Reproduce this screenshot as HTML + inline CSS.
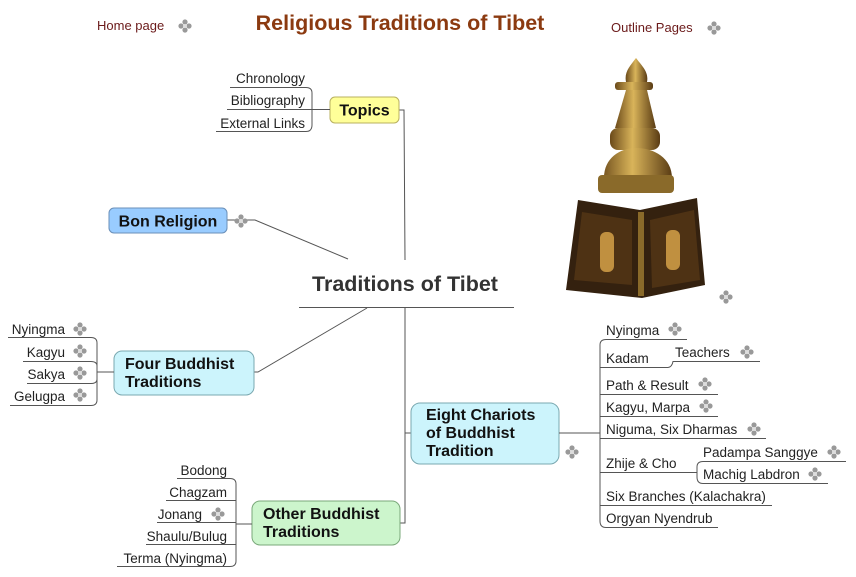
<!DOCTYPE html>
<html><head><meta charset="utf-8"><style>
html,body{margin:0;padding:0;background:#fff;}
svg{display:block;font-family:"Liberation Sans",sans-serif;}
.c{font-size:13.5px;fill:#222;}
.b{font-size:16px;font-weight:bold;fill:#111;}
.l{stroke:#555;stroke-width:1;fill:none;}
</style></head><body>
<svg width="856" height="577" viewBox="0 0 856 577" xmlns="http://www.w3.org/2000/svg">
<defs>
<g id="ic">
<circle cx="0" cy="-4" r="2.6" fill="#999"/><circle cx="0" cy="4" r="2.6" fill="#999"/>
<circle cx="-4" cy="0" r="2.6" fill="#999"/><circle cx="4" cy="0" r="2.6" fill="#999"/>
<circle cx="0" cy="0" r="2" fill="#ddd"/>
</g>
<linearGradient id="gd" x1="0" x2="1"><stop offset="0" stop-color="#6b4a1a"/><stop offset="0.45" stop-color="#d9b45a"/><stop offset="1" stop-color="#5a3c14"/></linearGradient>
</defs>

<text x="97" y="30" font-size="13" fill="#6b1a1a">Home page</text>
<use href="#ic" x="185" y="26"/>
<text x="400" y="30" text-anchor="middle" font-size="21.5" font-weight="bold" fill="#8b3a10">Religious Traditions of Tibet</text>
<text x="611" y="32" font-size="13" fill="#6b1a1a">Outline Pages</text>
<use href="#ic" x="714" y="28"/>

<!-- stupa -->
<path d="M636 58 C630 66 624 72 626 82 L647 82 C649 72 642 66 636 58Z" fill="url(#gd)"/>
<rect x="615" y="82" width="38" height="8" rx="3" fill="url(#gd)"/>
<path d="M626 90 L647 90 L656 128 L615 128Z" fill="url(#gd)"/>
<rect x="610" y="128" width="50" height="22" rx="8" fill="url(#gd)"/>
<path d="M604 178 C604 158 620 148 636 148 C654 148 672 158 672 178 L672 188 L600 188 Z" fill="url(#gd)"/>
<rect x="598" y="175" width="76" height="18" rx="4" fill="#8a6a2a"/>
<path d="M578 200 L640 210 L697 198 L705 285 L642 298 L566 290Z" fill="#34210f"/>
<path d="M582 212 L632 220 L632 285 L574 280Z" fill="#4e3214"/>
<path d="M650 220 L694 210 L700 280 L652 288Z" fill="#4e3214"/>
<rect x="600" y="232" width="14" height="40" rx="6" fill="#c09040"/>
<rect x="666" y="230" width="14" height="40" rx="6" fill="#c09040"/>
<rect x="638" y="212" width="6" height="84" fill="#8a6a2a"/>
<use href="#ic" x="726" y="297"/>

<text x="405" y="291" text-anchor="middle" font-size="21.5" font-weight="bold" fill="#333">Traditions of Tibet</text>
<line x1="299" y1="307.5" x2="514" y2="307.5" stroke="#555"/>

<path class="l" d="M399 110 L404 110 L405 260"/>
<rect x="330" y="97" width="69" height="26" rx="5" fill="#ffff99" stroke="#b8b060"/>
<text x="364.5" y="115.5" text-anchor="middle" class="b">Topics</text>
<path class="l" d="M230 87.5 H306 Q312 87.5 312 93 V125 Q312 131.5 306 131.5 H216 M227 109.5 H330"/>
<text x="305" y="83" text-anchor="end" class="c">Chronology</text>
<text x="305" y="105" text-anchor="end" class="c">Bibliography</text>
<text x="305" y="128" text-anchor="end" class="c">External Links</text>

<path class="l" d="M227 220 H255 L348 259"/>
<rect x="109" y="208" width="118" height="25" rx="5" fill="#99ccff" stroke="#6a8fb8"/>
<text x="168" y="226.5" text-anchor="middle" class="b">Bon Religion</text>
<use href="#ic" x="241" y="221"/>

<path class="l" d="M254 372 H258 L367 308"/>
<rect x="114" y="351" width="140" height="44" rx="8" fill="#ccf4fc" stroke="#7aa8b0"/>
<text x="125" y="369" class="b">Four Buddhist</text>
<text x="125" y="387" class="b">Traditions</text>
<path class="l" d="M8 337.5 H91 Q97 337.5 97 343 V400 Q97 405.5 91 405.5 H10 M23 361.5 H91 Q97 361.5 97 366 M27 383.5 H91 Q97 383.5 97 379 M97 372 H114"/>
<text x="65" y="334" text-anchor="end" class="c">Nyingma</text><use href="#ic" x="80" y="329"/>
<text x="65" y="357" text-anchor="end" class="c">Kagyu</text><use href="#ic" x="80" y="351"/>
<text x="65" y="379" text-anchor="end" class="c">Sakya</text><use href="#ic" x="80" y="373"/>
<text x="65" y="401" text-anchor="end" class="c">Gelugpa</text><use href="#ic" x="80" y="395"/>

<path class="l" d="M405 308 V523 H400 M405 433 H411"/>

<rect x="252" y="501" width="148" height="44" rx="8" fill="#ccf5cc" stroke="#7aa87a"/>
<text x="263" y="519" class="b">Other Buddhist</text>
<text x="263" y="537" class="b">Traditions</text>
<path class="l" d="M177 478.5 H230 Q236 478.5 236 484 V561 Q236 566.5 230 566.5 H117 M166 500.5 H236 M157 522.5 H236 M146 544.5 H236 M236 524 H252"/>
<text x="227" y="475" text-anchor="end" class="c">Bodong</text>
<text x="227" y="497" text-anchor="end" class="c">Chagzam</text>
<text x="202" y="519" text-anchor="end" class="c">Jonang</text><use href="#ic" x="218" y="514"/>
<text x="227" y="541" text-anchor="end" class="c">Shaulu/Bulug</text>
<text x="227" y="563" text-anchor="end" class="c">Terma (Nyingma)</text>

<rect x="411" y="403" width="148" height="61" rx="9" fill="#ccf4fc" stroke="#7aa8b0"/>
<text x="426" y="420" class="b">Eight Chariots</text>
<text x="426" y="438" class="b">of Buddhist</text>
<text x="426" y="456" class="b">Tradition</text>
<use href="#ic" x="572" y="452"/>
<path class="l" d="M559 433 H600 M687 339.5 H606 Q600 339.5 600 345 V521 Q600 527.5 606 527.5 H718
M600 367.5 H668 Q672 367 673 361.5 H760
M600 394.5 H718 M600 416.5 H718 M600 438.5 H766 M600 472.5 H695 M600 505.5 H772
M846 461.5 H703 Q697 461.5 697 467 V477 Q697 483.5 703 483.5 H828 M695 472.5 H697"/>
<text x="606" y="335" class="c">Nyingma</text><use href="#ic" x="675" y="329"/>
<text x="606" y="363" class="c">Kadam</text>
<text x="675" y="357" class="c">Teachers</text><use href="#ic" x="747" y="352"/>
<text x="606" y="390" class="c">Path &amp; Result</text><use href="#ic" x="705" y="384"/>
<text x="606" y="412" class="c">Kagyu, Marpa</text><use href="#ic" x="706" y="406"/>
<text x="606" y="434" class="c">Niguma, Six Dharmas</text><use href="#ic" x="754" y="429"/>
<text x="606" y="468" class="c">Zhije &amp; Cho</text>
<text x="703" y="457" class="c">Padampa Sanggye</text><use href="#ic" x="834" y="452"/>
<text x="703" y="479" class="c">Machig Labdron</text><use href="#ic" x="815" y="474"/>
<text x="606" y="501" class="c">Six Branches (Kalachakra)</text>
<text x="606" y="523" class="c">Orgyan Nyendrub</text>
</svg>
</body></html>
